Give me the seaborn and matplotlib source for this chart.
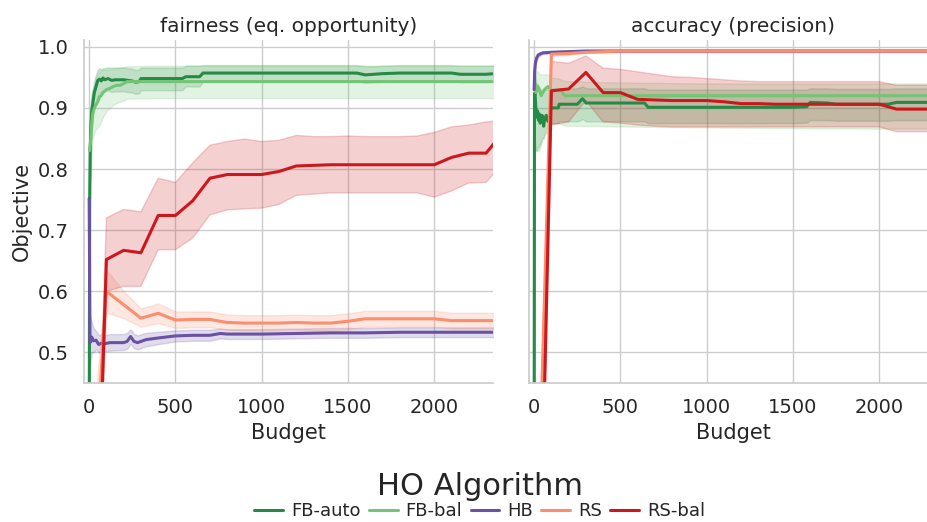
import numpy as np
import pandas as pd
import matplotlib
matplotlib.use("Agg")
import matplotlib.pyplot as plt
import seaborn as sns

# ---- data ----
ALGOS = ["FB-auto", "FB-bal", "HB", "RS", "RS-bal"]
COLORS = ["#238b45", "#74c476", "#6a51a3", "#fc8d6d", "#cb181d"]
OBJECTIVES = ["fairness (eq. opportunity)", "accuracy (precision)"]

# random search variants are evaluated every 100 budget units
rs_budget = [0, 100, 200, 300, 400, 500, 600, 700, 800, 900, 1000, 1100, 1200,
             1300, 1400, 1500, 1600, 1700, 1800, 1900, 2000, 2100, 2200, 2300, 2400]

# fairness
rsbal_fair = [-0.23, .652, .667, .663, .724, .724, .748, .785, .791, .791, .791, .796, .805,
              .806, .807, .807, .807, .807, .807, .807, .807, .819, .826, .826, .860]
rsbal_fair_hi = [-0.10, .720, .734, .730, .785, .778, .810, .839, .845, .849, .845, .847, .855,
                 .853, .853, .854, .853, .853, .853, .854, .860, .869, .872, .877, .880]
rsbal_fair_lo = [-0.36, .600, .608, .608, .668, .668, .687, .725, .733, .735, .736, .742, .757,
                 .759, .761, .761, .761, .761, .761, .761, .754, .764, .777, .778, .810]

rs_fair = [.16, .600, .578, .556, .564, .553, .554, .554, .549, .548, .548, .548, .549,
           .548, .548, .551, .555, .555, .555, .555, .555, .552, .552, .552, .552]
rs_fair_hi = [.30, .635, .600, .572, .580, .567, .567, .567, .562, .561, .561, .561, .562,
              .561, .561, .564, .568, .568, .568, .568, .568, .565, .565, .565, .565]
rs_fair_lo = [.02, .565, .556, .542, .548, .540, .541, .541, .537, .536, .536, .536, .537,
              .536, .536, .538, .542, .542, .542, .542, .542, .539, .539, .539, .539]

hb_fair_budget = [0, 5, 15, 25, 40, 55, 70, 85, 120, 200, 220, 240, 260, 280, 330,
                  410, 500, 600, 700, 760, 800, 1000, 1200, 1400, 1600, 1800, 2000, 2200, 2400]
hb_fair = [.752, .516, .525, .519, .520, .513, .515, .514, .516, .516, .518, .526, .518, .516, .521,
           .524, .527, .528, .528, .531, .530, .530, .531, .532, .532, .533, .533, .533, .533]
hb_fair_hi = [.800, .560, .550, .540, .535, .528, .530, .528, .530, .530, .532, .538, .530, .528, .532,
              .534, .536, .537, .537, .539, .538, .538, .539, .540, .540, .541, .541, .541, .541]
hb_fair_lo = [.700, .480, .500, .500, .505, .500, .502, .502, .503, .504, .506, .514, .507, .505, .510,
              .514, .518, .519, .519, .523, .522, .522, .523, .524, .524, .525, .525, .525, .525]

fba_fair_budget = [0, 3, 6, 10, 15, 20, 25, 30, 40, 50, 60, 70, 80, 90, 100, 110, 130, 150,
                   200, 250, 270, 290, 300, 400, 500, 540, 560, 640, 660, 800, 1000, 1200,
                   1400, 1550, 1600, 1650, 1700, 1800, 2000, 2100, 2150, 2200, 2300, 2400]
fba_fair = [.30, .75, .83, .87, .895, .905, .915, .925, .935, .945, .947, .944, .949, .946, .947,
            .948, .945, .946, .946, .944, .942, .943, .948, .948, .948, .948, .951, .951, .957,
            .957, .957, .957, .957, .957, .954, .955, .956, .957, .957, .957, .955, .955, .955, .957]
fba_fair_hi = [.40, .82, .88, .91, .925, .93, .935, .945, .955, .962, .965, .963, .965, .965, .966,
               .966, .966, .966, .966, .964, .962, .963, .966, .966, .966, .966, .969, .969, .970,
               .970, .970, .970, .970, .970, .968, .968, .969, .970, .970, .970, .969, .969, .969, .970]
fba_fair_lo = [.20, .68, .78, .83, .86, .875, .89, .90, .91, .92, .925, .925, .928, .927, .928,
               .929, .926, .927, .927, .925, .923, .924, .929, .929, .929, .929, .935, .935, .944,
               .944, .944, .944, .944, .944, .941, .942, .943, .944, .944, .944, .942, .942, .942, .944]

fbb_fair_budget = [2, 6, 10, 15, 20, 30, 40, 50, 60, 70, 80, 100, 120, 140, 160, 180,
                   200, 220, 400, 800, 1200, 1600, 2000, 2400]
fbb_fair = [.83, .84, .85, .875, .89, .90, .905, .91, .918, .92, .925, .93, .932, .935,
            .937, .937, .940, .943, .943, .943, .943, .943, .943, .943]
fbb_fair_hi = [.88, .88, .90, .92, .93, .94, .95, .955, .96, .962, .963, .963, .963, .964,
               .965, .966, .967, .968, .969, .969, .969, .969, .969, .969]
fbb_fair_lo = [.78, .78, .79, .83, .85, .86, .865, .868, .872, .878, .885, .895, .900, .905,
               .908, .910, .912, .915, .916, .916, .916, .916, .916, .916]

# accuracy
rsbal_acc = [-0.3, .928, .931, .958, .925, .925, .914, .913, .912, .912, .912, .910, .907,
             .907, .906, .906, .906, .906, .906, .906, .906, .898, .898, .898, .898]
rsbal_acc_hi = [-0.2, .976, .973, .985, .965, .963, .959, .955, .951, .950, .948, .946, .944,
                .943, .943, .943, .943, .943, .943, .943, .943, .937, .937, .937, .937]
rsbal_acc_lo = [-0.4, .872, .877, .912, .877, .875, .872, .870, .869, .869, .869, .869, .869,
                .869, .869, .869, .869, .869, .869, .869, .869, .861, .861, .861, .861]

rs_acc = [0.0, .988, .989, .991, .992, .993, .993, .993, .993, .993, .993, .993, .993,
          .993, .993, .993, .993, .993, .993, .993, .993, .993, .993, .993, .993]
rs_acc_hi = [0.05, .991, .991, .993, .994, .995, .995, .995, .995, .995, .995, .995, .995,
             .995, .995, .995, .995, .995, .995, .995, .995, .995, .995, .995, .995]
rs_acc_lo = [-0.05, .984, .986, .989, .990, .991, .991, .991, .991, .991, .991, .991, .991,
             .991, .991, .991, .991, .991, .991, .991, .991, .991, .991, .991, .991]

hb_acc_budget = [0, 3, 8, 15, 25, 50, 100, 200, 300, 400, 600, 1000, 1500, 2000, 2400]
hb_acc = [.930, .960, .975, .982, .987, .990, .991, .992, .993, .993, .993, .993, .993, .993, .993]
hb_acc_hi = [.950, .970, .982, .987, .990, .992, .993, .994, .995, .995, .995, .995, .995, .995, .995]
hb_acc_lo = [.910, .950, .968, .977, .984, .988, .989, .990, .991, .991, .991, .991, .991, .991, .991]

fba_acc_budget = [0, 2, 5, 10, 15, 20, 25, 30, 35, 40, 45, 50, 55, 60, 70, 80, 90, 95, 100,
                  140, 145, 250, 270, 280, 290, 300, 400, 640, 660, 1000, 1500, 1580, 1600,
                  1700, 1750, 2000, 2050, 2100, 2300, 2400]
fba_acc = [.30, .92, .925, .90, .885, .895, .88, .89, .875, .88, .888, .885, .87, .88, .888,
           .878, .88, .90, .90, .90, .906, .906, .912, .915, .912, .908, .908, .908, .901,
           .901, .901, .902, .909, .908, .906, .906, .906, .909, .909, .907]
fba_acc_hi = [.40, .96, .96, .95, .94, .94, .935, .935, .93, .93, .93, .93, .93, .93, .93,
              .93, .93, .93, .93, .93, .932, .932, .934, .935, .934, .932, .932, .932, .930,
              .930, .930, .930, .932, .932, .931, .931, .931, .932, .932, .932]
fba_acc_lo = [.20, .86, .84, .83, .83, .835, .835, .84, .84, .845, .85, .85, .85, .855, .86,
              .86, .865, .87, .875, .875, .878, .878, .880, .882, .880, .878, .878, .878, .875,
              .875, .875, .876, .880, .880, .879, .879, .879, .880, .880, .880]

fbb_acc_budget = [3, 5, 10, 20, 30, 40, 50, 60, 80, 100, 140, 160, 170, 180, 400, 1000, 2000, 2400]
fbb_acc = [.93, .94, .925, .935, .93, .92, .925, .93, .935, .929, .929, .929, .922, .920,
           .920, .920, .920, .920]
fbb_acc_hi = [.96, .965, .96, .96, .955, .955, .955, .955, .955, .950, .948, .946, .945, .944,
              .942, .940, .940, .940]
fbb_acc_lo = [.86, .85, .83, .83, .83, .84, .85, .86, .87, .875, .875, .873, .872, .871,
              .870, .868, .866, .866]

series = {
    OBJECTIVES[0]: {
        "FB-auto": (fba_fair_budget, fba_fair, fba_fair_lo, fba_fair_hi),
        "FB-bal": (fbb_fair_budget, fbb_fair, fbb_fair_lo, fbb_fair_hi),
        "HB": (hb_fair_budget, hb_fair, hb_fair_lo, hb_fair_hi),
        "RS": (rs_budget, rs_fair, rs_fair_lo, rs_fair_hi),
        "RS-bal": (rs_budget, rsbal_fair, rsbal_fair_lo, rsbal_fair_hi),
    },
    OBJECTIVES[1]: {
        "FB-auto": (fba_acc_budget, fba_acc, fba_acc_lo, fba_acc_hi),
        "FB-bal": (fbb_acc_budget, fbb_acc, fbb_acc_lo, fbb_acc_hi),
        "HB": (hb_acc_budget, hb_acc, hb_acc_lo, hb_acc_hi),
        "RS": (rs_budget, rs_acc, rs_acc_lo, rs_acc_hi),
        "RS-bal": (rs_budget, rsbal_acc, rsbal_acc_lo, rsbal_acc_hi),
    },
}

rows = []
for obj, d in series.items():
    for algo, (b, m, lo, hi) in d.items():
        for i in range(len(b)):
            rows.append({"objective": obj, "HO Algorithm": algo, "Budget": b[i],
                         "Objective": m[i], "lo": lo[i], "hi": hi[i]})
df = pd.DataFrame(rows)
palette = dict(zip(ALGOS, COLORS))

sns.set_theme(style="whitegrid")
plt.rcParams.update({
    "xtick.labelsize": 14, "ytick.labelsize": 14,
    "axes.labelsize": 15, "axes.titlesize": 14.5,
    "xtick.major.pad": 11, "ytick.major.pad": 11,
})

fig, axes = plt.subplots(1, 2, figsize=(9.28, 5.22), dpi=100, sharex=True, sharey=True)
axes[0].set_position([0.0905, 0.2663, 0.4407, 0.657])
axes[1].set_position([0.570, 0.2663, 0.4407, 0.657])

for ax, obj in zip(axes, OBJECTIVES):
    sub = df[df["objective"] == obj]
    sns.lineplot(data=sub, x="Budget", y="Objective", hue="HO Algorithm",
                 hue_order=ALGOS, palette=palette, errorbar=None,
                 linewidth=2.2, ax=ax, legend=(ax is axes[0]))
    for algo in ALGOS:
        s = sub[sub["HO Algorithm"] == algo]
        ax.fill_between(s["Budget"], s["lo"], s["hi"], color=palette[algo],
                        alpha=0.2, linewidth=1)
    ax.set_title(obj)
    ax.tick_params(length=0)

axes[0].set_xlim(-30, 2340)
axes[0].set_ylim(0.45, 1.011)
axes[0].set_xticks([0, 500, 1000, 1500, 2000])
axes[0].set_yticks([0.5, 0.6, 0.7, 0.8, 0.9, 1.0])
axes[1].tick_params(labelleft=False)
axes[1].set_ylabel("")
sns.despine(fig)

handles, labels = axes[0].get_legend_handles_labels()
axes[0].get_legend().remove()
leg = fig.legend(handles, labels, loc="lower center", bbox_to_anchor=(0.517, -0.028),
                 ncol=5, frameon=False, title="HO Algorithm", fontsize=13,
                 handlelength=1.6, handletextpad=0.45, columnspacing=0.45,
                 labelspacing=0.05)
leg.get_title().set_fontsize(22)
for line in leg.get_lines():
    line.set_linewidth(2.2)

fig.savefig("out.png", dpi=100)
